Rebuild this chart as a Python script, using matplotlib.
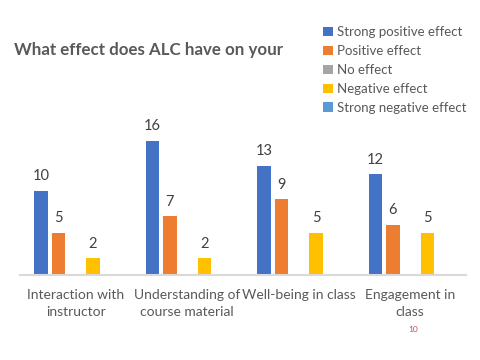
import matplotlib
matplotlib.use("Agg")
import matplotlib.pyplot as plt
import numpy as np

categories = ["Interaction with\ninstructor", "Understanding of\ncourse material",
              "Well-being in class", "Engagement in\nclass"]
series = ["Strong positive effect", "Positive effect", "No effect",
          "Negative effect", "Strong negative effect"]
values = {
    "Strong positive effect": [10, 16, 13, 12],
    "Positive effect": [5, 7, 9, 6],
    "No effect": [0, 0, 0, 0],
    "Negative effect": [2, 2, 5, 5],
    "Strong negative effect": [0, 0, 0, 0],
}
colors = ["#4472C4", "#ED7D31", "#A5A5A5", "#FFC000", "#5B9BD5"]
title = "What effect does ALC have on your"

plt.rcParams['font.family'] = ['Lato', 'DejaVu Sans']

fig = plt.figure(figsize=(4.8, 3.6), dpi=100)
ax = fig.add_axes([20/480, 85/360, 446/480, 151.2/360])

slot = 0.155
bw = 0.121
centers = np.arange(len(categories)) + 0.5
for i, s in enumerate(series):
    xs = centers + (i - 2) * slot
    vals = values[s]
    ax.bar(xs, vals, width=bw, color=colors[i], label=s)
    for x, v in zip(xs, vals):
        if v > 0:
            ax.text(x, v + 0.9, str(v), ha='center', va='bottom',
                    fontsize=10.5, color='#404040')

ax.set_xlim(0, len(categories))
ax.set_ylim(0, 18)
ax.set_yticks([])
ax.set_xticks(centers)
ax.set_xticklabels(categories, fontsize=10, color='#595959', linespacing=1.5)
ax.tick_params(axis='x', length=0, pad=10)
for sp in ['top', 'right', 'left']:
    ax.spines[sp].set_visible(False)
ax.spines['bottom'].set_color('#D9D9D9')
ax.spines['bottom'].set_linewidth(1.5)

fig.text(14/480, 1 - 50/360, title, fontsize=12.2, fontweight='bold',
         color='#595959', ha='left', va='center')

handles, labels = ax.get_legend_handles_labels()
leg = fig.legend(handles, labels, loc='upper left',
                 bbox_to_anchor=(318/480, 1 - 21/360), frameon=False,
                 fontsize=9.5, handlelength=0.7, handleheight=0.7,
                 handletextpad=0.35, labelspacing=0.52, borderaxespad=0)
for t in leg.get_texts():
    t.set_color('#595959')

fig.text(413/480, 1 - 330/360, "10", fontsize=6, color='#C0504D',
         ha='center', va='center')

fig.savefig("out.png", dpi=100)
